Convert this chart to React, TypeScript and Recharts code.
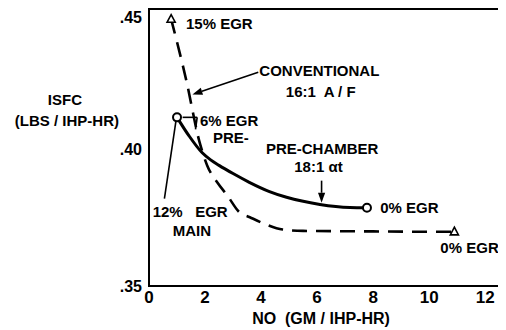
import React from 'react';
import {
  LineChart,
  Line,
  XAxis,
  YAxis,
  ReferenceArea,
  ReferenceLine,
  ReferenceDot,
} from 'recharts';

// ---- data ----
const xTicks = [0, 2, 4, 6, 8, 10, 12];
const yTicks = [0.35, 0.4, 0.45];

const conventionalNO = [0.79, 1.33, 1.79, 2.08, 2.44, 2.8, 3.23, 3.6, 4.12, 4.77, 5.5, 6.5, 8.0, 9.5, 10.9];
const conventionalISFC = [0.4478, 0.4254, 0.4033, 0.3941, 0.3879, 0.3831, 0.3770, 0.3752, 0.3728, 0.3707, 0.3702, 0.3701, 0.3700, 0.3699, 0.3699];

const preChamberNO = [1.0, 1.43, 1.9, 2.2, 2.5, 3.0, 3.58, 4.3, 4.91, 6.1, 7.17, 7.78];
const preChamberISFC = [0.4118, 0.4050, 0.3988, 0.3962, 0.3942, 0.3912, 0.3880, 0.3846, 0.3825, 0.3799, 0.3788, 0.3787];

const conventionalData = conventionalNO.map((x, i) => ({ x, y: conventionalISFC[i] }));
const preChamberData = preChamberNO.map((x, i) => ({ x, y: preChamberISFC[i] }));

// ---- annotations ----
type Note = { text: string; x: number; y: number; anchor: 'start' | 'middle' | 'end'; size?: number };
const notes: Note[] = [
  { text: '15% EGR', x: 1.32, y: 0.4463, anchor: 'start' },
  { text: 'CONVENTIONAL', x: 6.08, y: 0.4290, anchor: 'middle' },
  { text: '16:1  A / F', x: 6.13, y: 0.4213, anchor: 'middle' },
  { text: '6% EGR', x: 1.82, y: 0.4106, anchor: 'start' },
  { text: 'PRE-', x: 2.28, y: 0.4044, anchor: 'start' },
  { text: 'PRE-CHAMBER', x: 6.18, y: 0.4004, anchor: 'middle' },
  { text: '18:1 \u03b1t', x: 6.05, y: 0.3938, anchor: 'middle' },
  { text: '0% EGR', x: 8.25, y: 0.3787, anchor: 'start' },
  { text: '0% EGR', x: 10.4, y: 0.3640, anchor: 'start' },
  { text: '12%   EGR', x: 0.13, y: 0.3772, anchor: 'start' },
  { text: 'MAIN', x: 1.53, y: 0.3702, anchor: 'middle' },
];
const axisTitles: Note[] = [
  { text: 'ISFC', x: -3.0, y: 0.4182, anchor: 'middle' },
  { text: '(LBS / IHP-HR)', x: -2.93, y: 0.4108, anchor: 'middle' },
  { text: 'NO  (GM / IHP-HR)', x: 6.14, y: 0.3381, anchor: 'middle', size: 16 },
];

type Seg = { from: [number, number]; to: [number, number]; arrow: boolean };
const leaders: Seg[] = [
  { from: [3.9, 0.4283], to: [1.55, 0.4202], arrow: true },
  { from: [6.16, 0.3886], to: [6.16, 0.3805], arrow: true },
  { from: [0.55, 0.3820], to: [0.96, 0.4103], arrow: false },
  { from: [1.2, 0.4118], to: [1.72, 0.4118], arrow: false },
  { from: [1.72, 0.4118], to: [1.66, 0.4074], arrow: false },
];

const FONT = '"Liberation Sans", Arial, Helvetica, sans-serif';

const segShape = (arrow: boolean) => (p: any) => {
  const { x1, y1, x2, y2 } = p;
  if (!arrow) {
    return <line x1={x1} y1={y1} x2={x2} y2={y2} stroke="#000" strokeWidth={1.6} />;
  }
  const ang = Math.atan2(y2 - y1, x2 - x1);
  const L = 10;
  const W = 3.6;
  const bx = x2 - L * Math.cos(ang);
  const by = y2 - L * Math.sin(ang);
  const nx = -Math.sin(ang) * W;
  const ny = Math.cos(ang) * W;
  return (
    <g>
      <line x1={x1} y1={y1} x2={bx} y2={by} stroke="#000" strokeWidth={1.6} />
      <polygon points={`${x2},${y2} ${bx + nx},${by + ny} ${bx - nx},${by - ny}`} fill="#000" />
    </g>
  );
};

const textShape = (n: Note) => (p: any) => (
  <text
    x={p.cx}
    y={p.cy}
    textAnchor={n.anchor}
    dominantBaseline="central"
    fontFamily={FONT}
    fontWeight="bold"
    fontSize={n.size ?? 15}
    fill="#000"
    style={{ whiteSpace: 'pre' }}
  >
    {n.text}
  </text>
);

const triangleDot = (last: number) => (p: any) => {
  const { cx, cy, index } = p;
  if (index !== 0 && index !== last) return <g key={`t${index}`} />;
  const s = 4.5;
  return (
    <path
      key={`t${index}`}
      d={`M${cx},${cy - s} L${cx + s * 0.9},${cy + s * 0.7} L${cx - s * 0.9},${cy + s * 0.7} Z`}
      fill="#fff"
      stroke="#000"
      strokeWidth={1.6}
    />
  );
};

const circleDot = (last: number) => (p: any) => {
  const { cx, cy, index } = p;
  if (index !== 0 && index !== last) return <g key={`c${index}`} />;
  return <circle key={`c${index}`} cx={cx} cy={cy} r={4} fill="#fff" stroke="#000" strokeWidth={2} />;
};

export default function App() {
  return (
    <div style={{ width: 498, height: 322, background: '#fff' }}>
      <LineChart width={498} height={322} margin={{ top: 1, right: 4, bottom: 0, left: 0 }}>
        <XAxis
          type="number"
          dataKey="x"
          domain={[0, 12.6]}
          ticks={xTicks}
          allowDataOverflow
          axisLine={false}
          tickLine={false}
          tickSize={3}
          tickMargin={2}
          height={44}
          tick={{ fontSize: 17, fontWeight: 'bold', fill: '#000', fontFamily: FONT }}
        />
        <YAxis
          type="number"
          dataKey="y"
          domain={[0.35, 0.4515]}
          ticks={yTicks}
          allowDataOverflow
          axisLine={false}
          tickLine={false}
          tickSize={5}
          tickMargin={2}
          width={141}
          tickFormatter={(v: number) => '.' + Math.round(v * 100)}
          tick={{ fontSize: 16, fontWeight: 'bold', fill: '#000', fontFamily: FONT }}
        />
        <ReferenceArea
          x1={0}
          x2={12.6}
          y1={0.35}
          y2={0.4515}
          fill="none"
          fillOpacity={0}
          stroke="#000"
          strokeWidth={2}
          ifOverflow="visible"
        />
        <Line
          data={conventionalData}
          dataKey="y"
          type="monotone"
          stroke="#000"
          strokeWidth={2.6}
          strokeDasharray="15 9"
          dot={triangleDot(conventionalData.length - 1)}
          activeDot={false}
          isAnimationActive={false}
        />
        <Line
          data={preChamberData}
          dataKey="y"
          type="monotone"
          stroke="#000"
          strokeWidth={3}
          dot={circleDot(preChamberData.length - 1)}
          activeDot={false}
          isAnimationActive={false}
        />
        {leaders.map((s, i) => (
          <ReferenceLine
            key={`l${i}`}
            segment={[{ x: s.from[0], y: s.from[1] }, { x: s.to[0], y: s.to[1] }]}
            stroke="#000"
            ifOverflow="visible"
            shape={segShape(s.arrow)}
          />
        ))}
        {notes.concat(axisTitles).map((n, i) => (
          <ReferenceDot
            key={`n${i}`}
            x={n.x}
            y={n.y}
            r={1}
            ifOverflow="visible"
            shape={textShape(n)}
          />
        ))}
      </LineChart>
    </div>
  );
}
